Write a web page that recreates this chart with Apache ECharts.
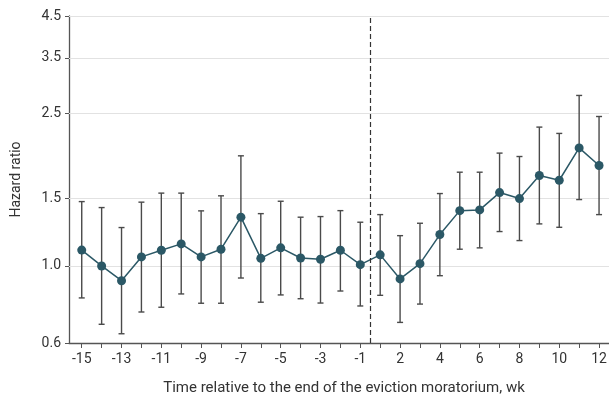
<!DOCTYPE html>
<html>
<head>
<meta charset="utf-8">
<script src="https://cdn.jsdelivr.net/npm/echarts@6/dist/echarts.min.js"></script>
<style>
  html, body { margin: 0; padding: 0; background: #fff; }
  #chart { width: 609px; height: 398px; }
</style>
</head>
<body>
<div id="chart"></div>
<script>
// weeks relative to end of moratorium (no week 0)
const weeks = ['-15', '-14', '-13', '-12', '-11', '-10', '-9', '-8', '-7', '-6', '-5', '-4', '-3', '-2', '-1',
  '1', '2', '3', '4', '5', '6', '7', '8', '9', '10', '11', '12'];
const hazard = [1.10, 1.00, 0.915, 1.056, 1.099, 1.142, 1.056, 1.106, 1.341, 1.047, 1.115, 1.049, 1.041, 1.099, 1.008,
  1.069, 0.925, 1.014, 1.208, 1.395, 1.401, 1.555, 1.50, 1.723, 1.675, 2.035, 1.83];
const lower = [0.825, 0.704, 0.665, 0.758, 0.780, 0.845, 0.799, 0.799, 0.930, 0.804, 0.840, 0.821, 0.800, 0.860, 0.786,
  0.838, 0.712, 0.795, 0.943, 1.106, 1.115, 1.23, 1.165, 1.288, 1.262, 1.491, 1.362];
const upper = [1.473, 1.421, 1.26, 1.468, 1.55, 1.55, 1.393, 1.525, 1.94, 1.37, 1.476, 1.341, 1.346, 1.395, 1.301,
  1.362, 1.20, 1.293, 1.546, 1.758, 1.758, 1.972, 1.932, 2.306, 2.22, 2.79, 2.458];
const yTicks = [0.6, 1.0, 1.5, 2.5, 3.5, 4.5];
const gridVals = [1.0, 1.5, 2.5, 3.5, 4.5];
const xLabelIdx = [0, 2, 4, 6, 8, 10, 12, 14, 16, 18, 20, 22, 24, 26];

// log scale done by hand so the bottom label can sit at the axis
const yMin = Math.log(0.629);
const yMax = Math.log(4.5);
const yTickPos = yTicks.map((t, i) => (i === 0 ? yMin : Math.log(t)));

const font = 'Roboto';

const chart = echarts.init(document.getElementById('chart'));
chart.setOption({
  animation: false,
  grid: { left: 69, right: 0, top: 16, bottom: 55, outerBoundsMode: 'none', containLabel: false },
  xAxis: {
    type: 'value',
    min: -0.64,
    max: 26.5,
    name: 'Time relative to the end of the eviction moratorium, wk',
    nameLocation: 'middle',
    nameGap: 38,
    nameTextStyle: { fontFamily: font, fontSize: 15, color: '#333', padding: [0, 0, 0, 10] },
    axisLine: { onZero: false, lineStyle: { color: '#555', width: 1.3 } },
    axisTick: { customValues: weeks.map((_, i) => i), length: 5, lineStyle: { color: '#555' } },
    axisLabel: {
      customValues: xLabelIdx,
      formatter: (v) => weeks[Math.round(v)],
      fontFamily: font, fontSize: 14, color: '#333', margin: 9
    },
    splitLine: { show: false }
  },
  yAxis: {
    type: 'value',
    min: yMin,
    max: yMax,
    name: 'Hazard ratio',
    nameLocation: 'middle',
    nameGap: 46,
    nameTextStyle: { fontFamily: font, fontSize: 14, color: '#333' },
    axisLine: { show: true, onZero: false, lineStyle: { color: '#555', width: 1.3 } },
    axisTick: { show: true, customValues: yTickPos, length: 4, lineStyle: { color: '#555' } },
    axisLabel: {
      customValues: yTickPos,
      formatter: (v) => {
        const i = yTickPos.findIndex((p) => Math.abs(p - v) < 1e-6);
        return i >= 0 ? yTicks[i].toFixed(1) : '';
      },
      fontFamily: font, fontSize: 14, color: '#333', margin: 8
    },
    splitLine: { show: false }
  },
  series: [
    {
      // horizontal gridlines at the log tick values
      type: 'line',
      data: [],
      z: 1,
      markLine: {
        silent: true,
        z: 1,
        symbol: 'none',
        label: { show: false },
        lineStyle: { type: 'solid', color: '#e2e2e2', width: 1.2 },
        data: gridVals.map((v) => ({ yAxis: Math.log(v) }))
      }
    },
    {
      type: 'custom',
      silent: true,
      renderItem: (params, api) => {
        const x = api.value(0);
        const lo = api.coord([x, api.value(1)]);
        const hi = api.coord([x, api.value(2)]);
        const cap = 3;
        const style = { stroke: '#4a4a4a', lineWidth: 1.4 };
        return {
          type: 'group',
          children: [
            { type: 'line', shape: { x1: lo[0], y1: lo[1], x2: hi[0], y2: hi[1] }, style },
            { type: 'line', shape: { x1: hi[0] - cap, y1: hi[1], x2: hi[0] + cap, y2: hi[1] }, style },
            { type: 'line', shape: { x1: lo[0] - cap, y1: lo[1], x2: lo[0] + cap, y2: lo[1] }, style }
          ]
        };
      },
      data: weeks.map((_, i) => [i, Math.log(lower[i]), Math.log(upper[i])]),
      z: 2
    },
    {
      type: 'line',
      data: weeks.map((_, i) => [i, Math.log(hazard[i])]),
      symbol: 'circle',
      symbolSize: 9,
      itemStyle: { color: '#2b5866' },
      lineStyle: { color: '#2b5866', width: 1.5 },
      z: 3,
      markLine: {
        silent: true,
        symbol: 'none',
        label: { show: false },
        lineStyle: { type: [5, 3], color: '#333', width: 1.2 },
        data: [{ xAxis: 14.5 }]
      }
    }
  ]
});
</script>
</body>
</html>
